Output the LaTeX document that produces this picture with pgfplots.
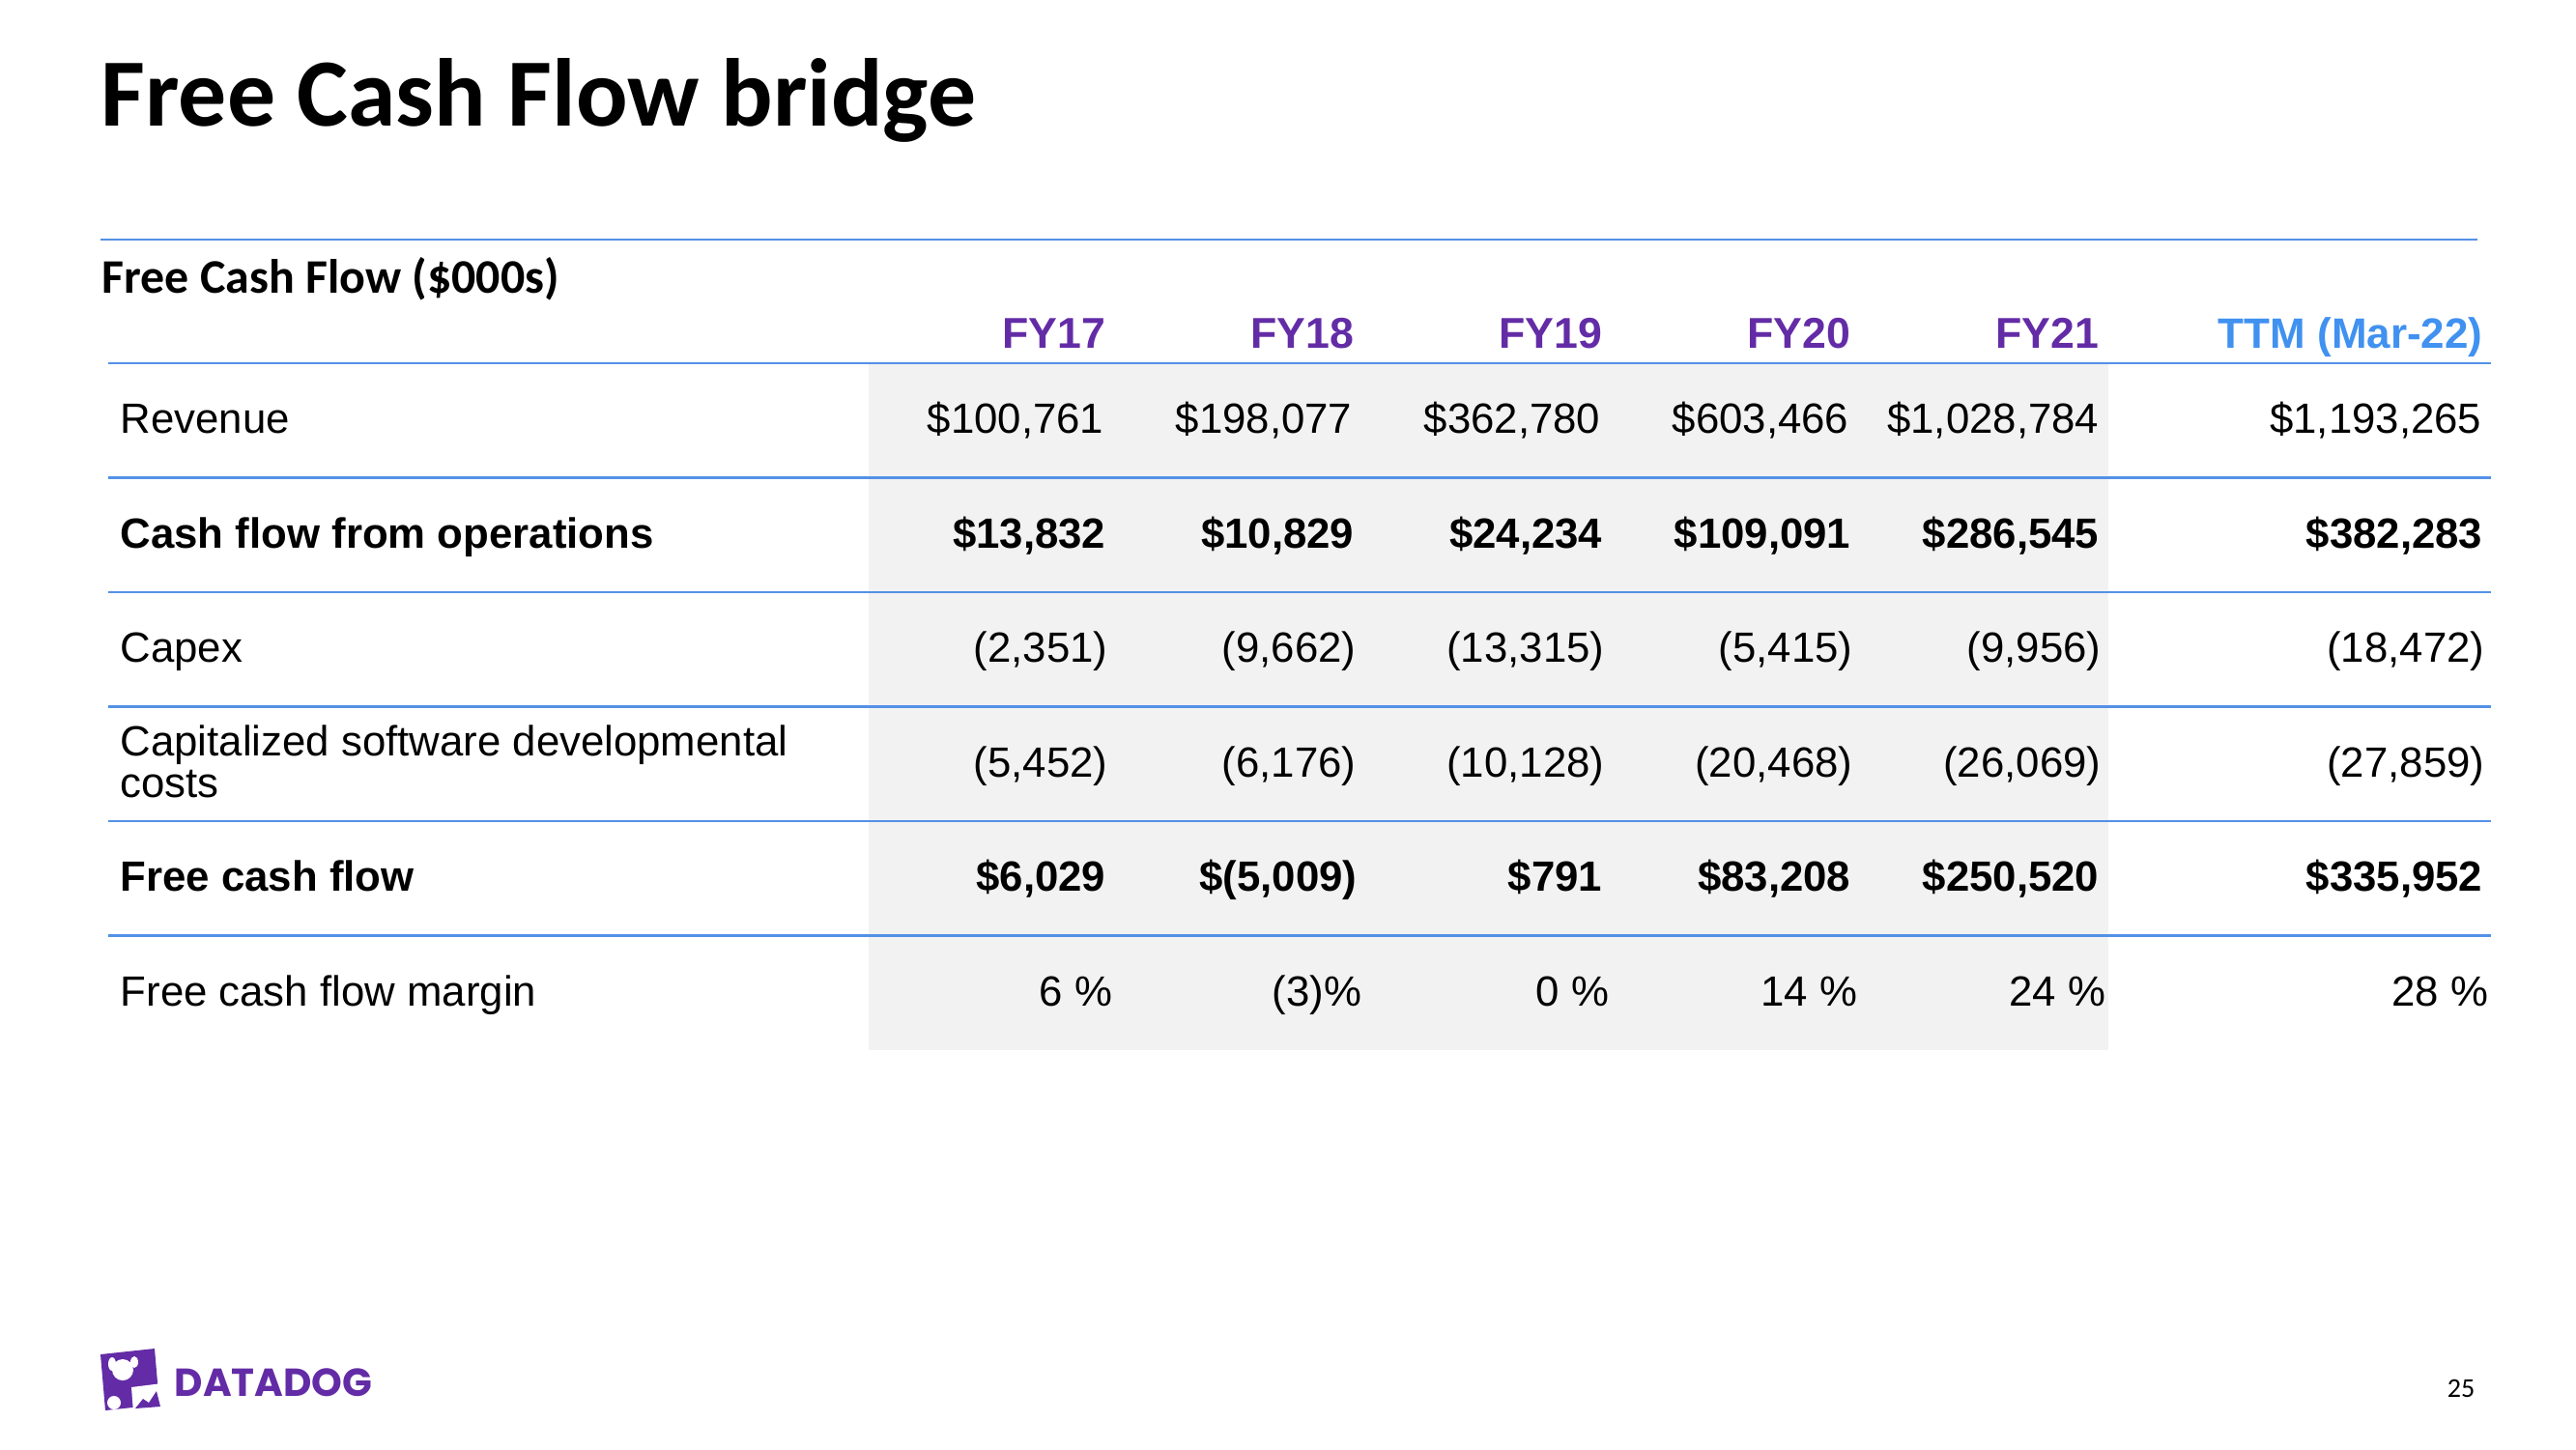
\documentclass[border=0pt]{standalone}
\usepackage{pgfplots}
\pgfplotsset{compat=1.18}
\usepackage{pgfplotstable}
\usepackage{fontspec}
\setmainfont{Liberation Sans}
\newfontfamily\calibri{Carlito}
\newfontfamily\pop{Poppins}
\definecolor{ddpurple}{RGB}{99,44,166}
\definecolor{ttmblue}{RGB}{64,145,240}
\definecolor{rulecol}{RGB}{84,145,230}
\definecolor{band}{RGB}{242,242,242}

% row labels
\pgfplotstableread[col sep=semicolon]{
x;y;lab
124;448;Revenue
124;685;Capex
124;782;Capitalized software developmental
124;825;costs
124;1041;Free cash flow margin
}\labelsnormal
\pgfplotstableread[col sep=semicolon]{
x;y;lab
124;567;Cash flow from operations
124;922;Free cash flow
}\labelsbold
% column headers
\pgfplotstableread[col sep=semicolon]{
x;y;lab
1141;360;FY17
1398;360;FY18
1655;360;FY19
1912;360;FY20
2169;360;FY21
}\headfy
\pgfplotstableread[col sep=semicolon]{
x;y;lab
2566;360;TTM (Mar-22)
}\headttm
% values
\pgfplotstableread[col sep=semicolon]{
x;y;lab
1139;448;\$100,761
1396;448;\$198,077
1653;448;\$362,780
1910;448;\$603,466
2169;448;\$1,028,784
2565;448;\$1,193,265
}\revenue
\pgfplotstableread[col sep=semicolon]{
x;y;lab
1141;567;\$13,832
1398;567;\$10,829
1655;567;\$24,234
1912;567;\$109,091
2169;567;\$286,545
2566;567;\$382,283
}\cfo
\pgfplotstableread[col sep=semicolon]{
x;y;lab
1143;685;(2,351)
1400;685;(9,662)
1657;685;(13,315)
1914;685;(5,415)
2171;685;(9,956)
2568;685;(18,472)
}\capex
\pgfplotstableread[col sep=semicolon]{
x;y;lab
1143;804;(5,452)
1400;804;(6,176)
1657;804;(10,128)
1914;804;(20,468)
2171;804;(26,069)
2568;804;(27,859)
}\capsoft
\pgfplotstableread[col sep=semicolon]{
x;y;lab
1141;922;\$6,029
1401;922;\$(5,009)
1655;922;\$791
1912;922;\$83,208
2169;922;\$250,520
2566;922;\$335,952
}\fcf
\pgfplotstableread[col sep=semicolon]{
x;y;lab
1148;1041;6 \%
1406;1041;(3)\%
1662;1041;0 \%
1919;1041;14 \%
2176;1041;24 \%
2572;1041;28 \%
}\margin

\pgfplotsset{
  txt/.style={draw=none, mark=none, nodes near coords, point meta=explicit symbolic,
    every node near coord/.append style={inner sep=0pt, text=black,
      font=\fontsize{12.45}{14}\selectfont, anchor=base #1}},
  txtbold/.style={txt=#1,
    every node near coord/.append style={font=\fontsize{12.45}{14}\selectfont\bfseries}},
  rshift/.style={every node near coord/.append style={xshift=0.04cm}},
}

\begin{document}
\begin{tikzpicture}
\begin{axis}[
  width=26.66cm, height=15cm, scale only axis,
  xmin=0, xmax=2666, ymin=0, ymax=1500, y dir=reverse,
  axis lines=none, ticks=none, clip=false,
]
% background
\fill[white] (rel axis cs:0,0) rectangle (rel axis cs:1,1);
% grey band
\fill[band] (axis cs:899,377) rectangle (axis cs:2182,1087);
% rules
\draw[rulecol, line width=0.6pt] (axis cs:104,248) -- (axis cs:2564,248);
\draw[rulecol, line width=0.6pt] (axis cs:112,376) -- (axis cs:2578,376);
\draw[rulecol, line width=0.6pt] (axis cs:112,494.5) -- (axis cs:2578,494.5);
\draw[rulecol, line width=0.6pt] (axis cs:112,613) -- (axis cs:2578,613);
\draw[rulecol, line width=0.6pt] (axis cs:112,731.5) -- (axis cs:2578,731.5);
\draw[rulecol, line width=0.6pt] (axis cs:112,850) -- (axis cs:2578,850);
\draw[rulecol, line width=0.6pt] (axis cs:112,968.5) -- (axis cs:2578,968.5);

% title and subtitle
\node[anchor=base west, inner sep=0pt, font=\calibri\bfseries\fontsize{28.4}{30}\selectfont]
  at (axis cs:104,130) {Free Cash Flow bridge};
\node[anchor=base west, inner sep=0pt, font=\calibri\bfseries\fontsize{14.2}{15}\selectfont]
  at (axis cs:105,303) {Free Cash Flow (\$000s)};

% headers
\addplot[txtbold=east, rshift, every node near coord/.append style={text=ddpurple, font=\fontsize{12.7}{14}\selectfont\bfseries}]
  table[x=x, y=y, meta=lab] {\headfy};
\addplot[txtbold=east, rshift, every node near coord/.append style={text=ttmblue, font=\fontsize{12.5}{14}\selectfont\bfseries}]
  table[x=x, y=y, meta=lab] {\headttm};

% row labels
\addplot[txt=west] table[x=x, y=y, meta=lab] {\labelsnormal};
\addplot[txtbold=west] table[x=x, y=y, meta=lab] {\labelsbold};

% values
\addplot[txt=east, rshift] table[x=x, y=y, meta=lab] {\revenue};
\addplot[txtbold=east, rshift] table[x=x, y=y, meta=lab] {\cfo};
\addplot[txt=east, rshift] table[x=x, y=y, meta=lab] {\capex};
\addplot[txt=east, rshift] table[x=x, y=y, meta=lab] {\capsoft};
\addplot[txtbold=east, rshift] table[x=x, y=y, meta=lab] {\fcf};
\addplot[txt=east, rshift] table[x=x, y=y, meta=lab] {\margin};

% footer logo
\fill[ddpurple] (axis cs:104,1402) -- (axis cs:160,1396) -- (axis cs:165,1454) -- (axis cs:109,1460) -- cycle;
\fill[white] (axis cs:127,1418) circle[radius=0.11cm];
\fill[white] (axis cs:116,1412) ellipse[x radius=0.04cm, y radius=0.07cm];
\fill[white] (axis cs:139,1410) ellipse[x radius=0.04cm, y radius=0.06cm];
\fill[white] (axis cs:118,1452) circle[radius=0.07cm];
\fill[white] (axis cs:136,1436) -- (axis cs:168,1432) -- (axis cs:170,1458) -- (axis cs:138,1462) -- cycle;
\fill[ddpurple] (axis cs:140,1458) -- (axis cs:148,1448) -- (axis cs:154,1452) -- (axis cs:162,1440) -- (axis cs:166,1456) -- cycle;
\node[anchor=base west, inner sep=0pt, text=ddpurple, font=\pop\bfseries\fontsize{11.5}{12}\selectfont]
  at (axis cs:180,1445) {DATADOG};
% page number
\node[anchor=base east, inner sep=0pt, font=\calibri\fontsize{8}{9}\selectfont]
  at (axis cs:2562,1446) {25};
\end{axis}
\end{tikzpicture}
\end{document}
